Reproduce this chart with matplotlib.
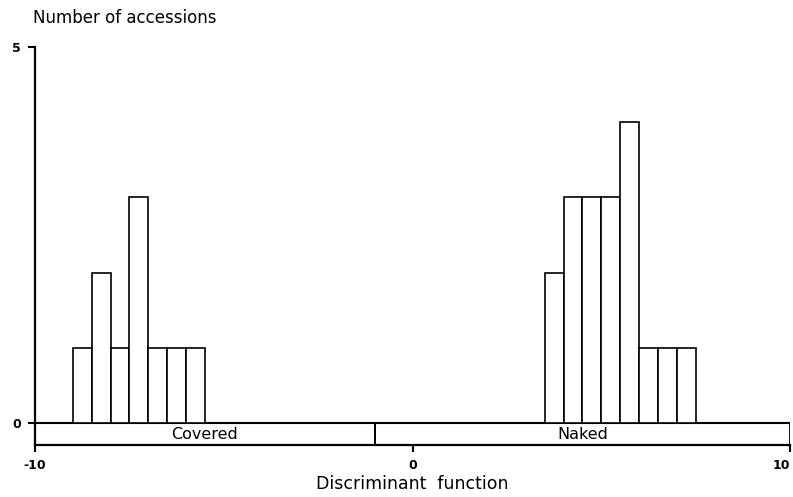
import matplotlib
matplotlib.use("Agg")
import matplotlib.pyplot as plt

# Data
covered_left = [-9.0, -8.5, -8.0, -7.5, -7.0, -6.5, -6.0]
covered_counts = [1, 2, 1, 3, 1, 1, 1]
naked_left = [3.5, 4.0, 4.5, 5.0, 5.5, 6.0, 6.5, 7.0]
naked_counts = [2, 3, 3, 3, 4, 1, 1, 1]
bin_width = 0.5
groups = ["Covered", "Naked"]
group_bounds = [(-10, -1), (-1, 10)]
x_ticks = [-10, 0, 10]
y_ticks = [0, 5]

band = 0.29

fig = plt.figure(figsize=(7.93, 4.97), dpi=100)
ax = fig.add_axes([35/793, (497-445)/497, (790-35)/793, (445-47)/497])

lw = 1.2
ax.bar(covered_left, covered_counts, width=bin_width, align="edge",
       facecolor="white", edgecolor="black", linewidth=lw, zorder=3)
ax.bar(naked_left, naked_counts, width=bin_width, align="edge",
       facecolor="white", edgecolor="black", linewidth=lw, zorder=3)

ax.set_xlim(-10, 10)
ax.set_ylim(-band, 5)

# band with group labels
ax.plot([-10, 10], [0, 0], color="black", linewidth=1.5, zorder=2)
for (a, b), name in zip(group_bounds, groups):
    ax.plot([a, a], [-band, 0], color="black", linewidth=1.3, zorder=2)
    ax.plot([b, b], [-band, 0], color="black", linewidth=1.3, zorder=2)
    ax.text((a + b) / 2, -band / 2, name, ha="center", va="center",
            fontsize=11.5)

for s in ["top", "right"]:
    ax.spines[s].set_visible(False)
ax.spines["left"].set_linewidth(1.6)
ax.spines["bottom"].set_linewidth(1.6)

ax.set_xticks(x_ticks)
ax.set_xticklabels([str(t) for t in x_ticks], fontweight="bold", fontsize=9)
ax.get_xticklabels()[-1].set_horizontalalignment("right")
ax.set_yticks(y_ticks)
ax.set_yticklabels([str(t) for t in y_ticks], fontweight="bold", fontsize=9)
ax.tick_params(axis="both", direction="out", length=5, width=1.5, pad=5)

ax.set_xlabel("Discriminant  function", fontsize=12.5, labelpad=2)
fig.text(33/793, 1 - 18/497, "Number of accessions", ha="left", va="center",
         fontsize=12)

fig.savefig("out.png", dpi=100)
